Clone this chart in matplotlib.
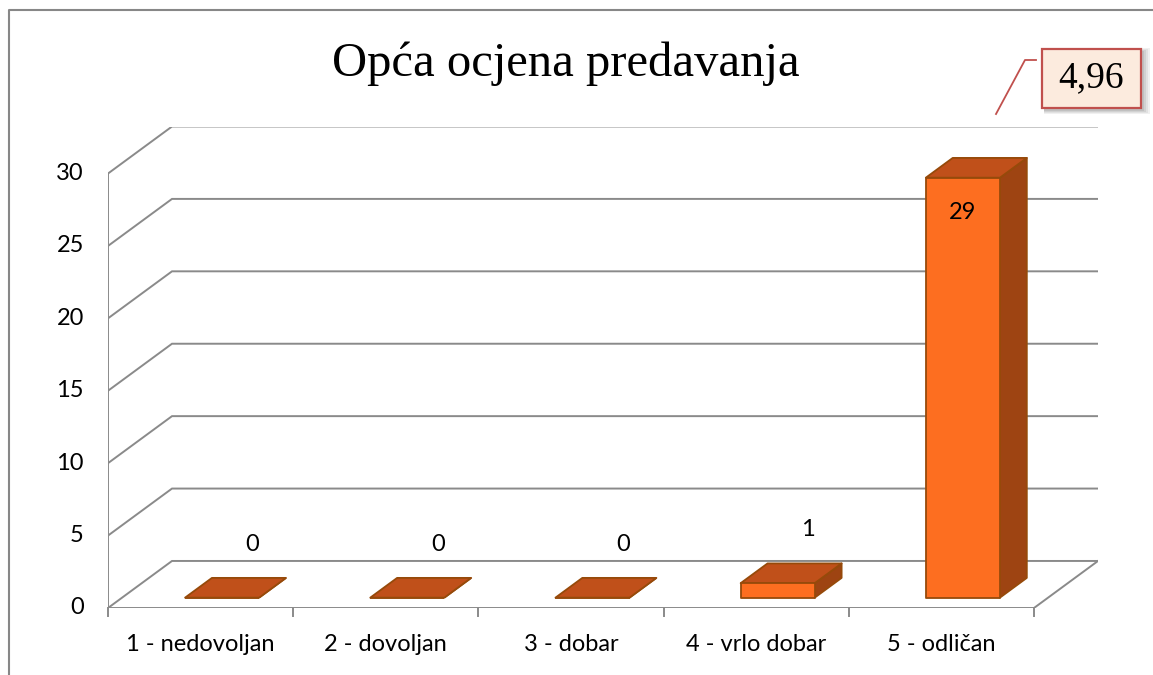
import matplotlib.pyplot as plt
from matplotlib.patches import Polygon, Rectangle

categories = ["1 - nedovoljan", "2 - dovoljan", "3 - dobar", "4 - vrlo dobar", "5 - odličan"]
counts = [0, 0, 0, 1, 29]
y_ticks = [0, 5, 10, 15, 20, 25, 30]
title = "Opća ocjena predavanja"
average_label = "4,96"

# fake 3d: depth offset in data units
DX = 0.3456
DY = 3.248
YMAX = 30
Z0, Z1 = 0.22, 0.64
BAR_W = 0.4

grid_col = "#8a8a8a"
front_col = "#fd6e20"
top_col = "#c0501a"
side_col = "#9e4412"
edge_col = "#964a0a"
sans = ["Lato", "DejaVu Sans"]
serif = ["Liberation Serif", "DejaVu Serif"]


def proj(x, v, z):
    return (x + z * DX, v + z * DY)


fig = plt.figure(figsize=(11.53, 6.75), dpi=100)

# overlay in pixel coords for frame, title, callout
bg = fig.add_axes([0, 0, 1, 1])
bg.set_xlim(0, 1153)
bg.set_ylim(675, 0)
bg.axis("off")
bg.plot([9, 9, 1160], [680, 10, 10], color="#878787", lw=1.5, clip_on=False)
bg.text(566, 64, title, ha="center", va="center", fontsize=35, family=serif)

ax = fig.add_axes([108 / 1153, 67 / 675, 990 / 1153, 481.5 / 675])
n = len(categories)
ax.set_xlim(0, n + DX)
ax.set_ylim(0, YMAX + DY)
ax.axis("off")

# walls / gridlines
for v in y_ticks:
    xs, ys = zip(proj(0, v, 0), proj(0, v, 1), proj(n, v, 1))
    ax.plot(xs, ys, color=grid_col, lw=1.4, solid_joinstyle="miter")
    ax.plot([-0.045, 0], [v, v], color=grid_col, lw=1.4)
    ax.text(-0.13, v, str(v), ha="right", va="center", fontsize=17, family=sans)
xs, ys = zip(proj(0, 0, 0), proj(n, 0, 0), proj(n, 0, 1))
ax.plot(xs, ys, color=grid_col, lw=1.4)
ax.plot([0, 0], [0, YMAX], color=grid_col, lw=1.4)
for i in range(n + 1):
    ax.plot([i, i], [0, -0.55], color=grid_col, lw=1.4, clip_on=False)
for i, c in enumerate(categories):
    ax.text(i + 0.5, -2.55, c, ha="center", va="center", fontsize=17, family=sans)

# bars
for i, v in enumerate(counts):
    x0 = i + 0.54 - BAR_W / 2
    x1 = x0 + BAR_W
    side = [proj(x1, 0, Z0), proj(x1, 0, Z1), proj(x1, v, Z1), proj(x1, v, Z0)]
    top = [proj(x0, v, Z0), proj(x1, v, Z0), proj(x1, v, Z1), proj(x0, v, Z1)]
    front = [proj(x0, 0, Z0), proj(x1, 0, Z0), proj(x1, v, Z0), proj(x0, v, Z0)]
    for pts, col in [(side, side_col), (top, top_col), (front, front_col)]:
        ax.add_patch(Polygon(pts, closed=True, facecolor=col, edgecolor=edge_col,
                             lw=1.3, joinstyle="round", zorder=3))
    if v + 4.4 > YMAX:
        lx, ly = proj(x0 + BAR_W / 2, v - 2.4, Z0)
    else:
        lx, ly = i + 0.78, v + 4.4
    ax.text(lx, ly, str(v), ha="center", va="center", fontsize=17, family=sans, zorder=4)

# average callout
for k, a in enumerate([0.06, 0.06, 0.07, 0.08]):
    g = 7 - 2 * k
    bg.add_patch(Rectangle((1042 + 2, 49 + 2 - g / 2), 99 + g, 59 + g, facecolor="black",
                           edgecolor="none", alpha=a, zorder=5))
bg.add_patch(Rectangle((1042, 49), 99, 59, facecolor="#fcebde", edgecolor="#c0504d",
                       lw=1.6, zorder=6))
bg.plot([996, 1025, 1036], [114, 60, 60], color="#c0504d", lw=1.3, zorder=6)
bg.text(1091.5, 78, average_label, ha="center", va="center", fontsize=27, family=serif, zorder=7)

fig.savefig("out.png", dpi=100)
